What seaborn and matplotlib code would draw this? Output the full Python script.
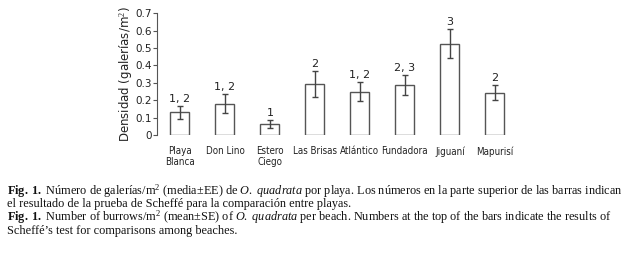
import numpy as np
import pandas as pd
import seaborn as sns
from matplotlib import pyplot as plt

# данные
playas = ['Playa\nBlanca', 'Don Lino', 'Estero\nCiego', 'Las Brisas',
          'Atlántico', 'Fundadora', 'Jiguaní', 'Mapurisí']
densidad = [0.13, 0.181, 0.061, 0.293, 0.25, 0.285, 0.525, 0.243]
ee = [0.036, 0.055, 0.023, 0.074, 0.056, 0.057, 0.085, 0.043]
scheffe = ['1, 2', '1, 2', '1', '2', '1, 2', '2, 3', '3', '2']

sns.set_style('ticks')
plt.rcParams['font.family'] = ['DejaVu Sans']
plt.rcParams['mathtext.fontset'] = 'custom'
plt.rcParams['mathtext.rm'] = 'Liberation Serif'
plt.rcParams['mathtext.it'] = 'Liberation Serif:italic'
plt.rcParams['mathtext.bf'] = 'Liberation Serif:bold'

data = pd.DataFrame({'playa': playas, 'densidad': densidad})

fig = plt.figure(figsize=(6.29, 2.67), dpi=100)
ax = fig.add_axes([0.2496, 0.494, 0.573, 0.457])

sns.barplot(data=data, x='playa', y='densidad', color='white', edgecolor='#555555',
            linewidth=1, width=0.42, errorbar=None, ax=ax)
x = np.arange(len(playas))
ax.errorbar(x, densidad, yerr=ee, fmt='none', ecolor='#444444', elinewidth=1,
            capsize=2.5, capthick=1)
for i in range(len(playas)):
    ax.text(x[i], densidad[i] + ee[i] + 0.012, scheffe[i], ha='center', va='bottom',
            fontsize=8, color='#222222')

ax.set_xlim(-0.51, 7.5)
ax.set_ylim(0, 0.7)
ax.set_yticks(np.arange(0, 0.71, 0.1))
ax.set_yticklabels(['0', '0.1', '0.2', '0.3', '0.4', '0.5', '0.6', '0.7'])
ax.set_ylabel('Densidad (galerías/m$^{2}$)', fontsize=8.5, color='#222222', labelpad=0)
ax.set_xlabel('')
sns.despine(ax=ax, bottom=True)
ax.spines['left'].set_color('#555555')
ax.tick_params(axis='x', length=0, pad=8)
ax.tick_params(axis='y', length=3, labelsize=7.5, pad=1, color='#555555', labelcolor='#222222')
for lab in ax.get_xticklabels():
    lab.set_fontstretch('condensed')
    lab.set_fontsize(7)
    lab.set_color('#222222')
    lab.set_linespacing(1.15)

caption = [
    r'$\mathbf{Fig.\ 1.}$ Número de galerías/m$^{2}$ (media±EE) de $\mathit{O.\ quadrata}$ por playa. '
    'Los números en la parte superior de las barras indican',
    'el resultado de la prueba de Scheffé para la comparación entre playas.',
    r'$\mathbf{Fig.\ 1.}$ Number of burrows/m$^{2}$ (mean±SE) of $\mathit{O.\ quadrata}$ per beach. '
    'Numbers at the top of the bars indicate the results of',
    'Scheffé’s test for comparisons among beaches.',
]
y0 = [0.273, 0.224, 0.172, 0.123]
for t, yy in zip(caption, y0):
    fig.text(0.011, yy, t, fontsize=8.8, family='Liberation Serif', color='#111111',
             va='baseline')

fig.savefig('out.png', dpi=100)
